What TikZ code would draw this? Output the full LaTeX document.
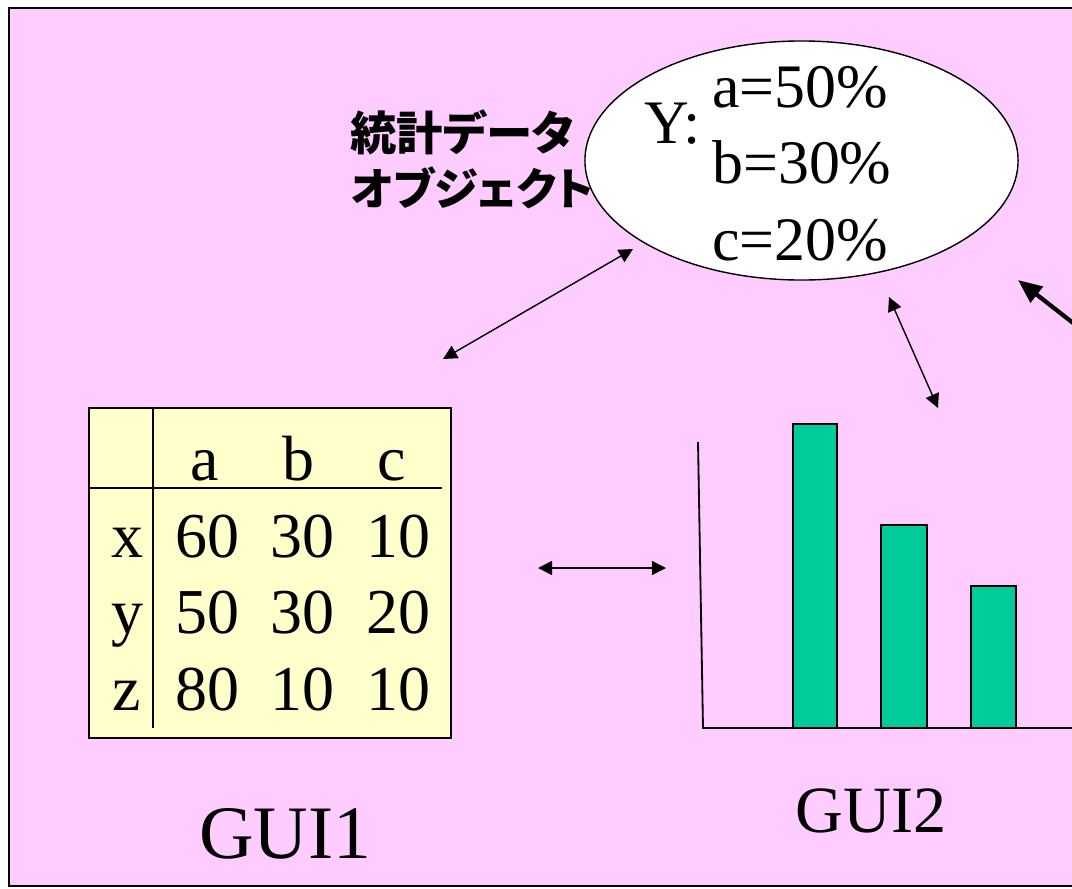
\documentclass[tikz,border=0pt]{standalone}
\usepackage{fontspec}
\setmainfont{Liberation Serif}
\newfontfamily\jpfont[RawFeature=+palt]{Noto Sans CJK JP}
\usetikzlibrary{shapes.geometric, arrows.meta, positioning}
\usepackage{xcolor}

\definecolor{bgpink}{RGB}{255,204,255}
\definecolor{tabyellow}{RGB}{255,255,204}
\definecolor{bargreen}{RGB}{0,204,153}

\begin{document}
\begin{tikzpicture}[
    x=0.025cm, y=-0.025cm,
    txt/.style={inner sep=0pt, anchor=base, font=\fontsize{45.5}{50}\selectfont},
    ytxt/.style={inner sep=0pt, anchor=base west, font=\fontsize{44}{50}\selectfont},
    jptxt/.style={inner sep=0pt, anchor=base west, font=\jpfont\bfseries\fontsize{33}{33}\selectfont},
    gui/.style={inner sep=0pt, anchor=base},
    stat/.style={ellipse, draw=black, line width=1pt, fill=white,
                 minimum width=10.825cm, minimum height=5.975cm},
    tab/.style={rectangle, draw=black, line width=1.3pt, fill=tabyellow,
                minimum width=9.05cm, minimum height=8.25cm},
    bar/.style={draw=black, line width=1.3pt, fill=bargreen},
    arr/.style={{Triangle[length=10pt,width=10pt]}-{Triangle[length=10pt,width=10pt]}, line width=1pt},
    thickarr/.style={{Triangle[length=17pt,width=14pt]}-, line width=3pt}
]
\useasboundingbox (0,0) rectangle (1072,888);
\clip (0,0) rectangle (1072,888);
\draw[line width=1.4pt, fill=bgpink] (9,8) rectangle (1100,886);

% statistics object
\node[stat] (obj) at (801.5,160.5) {};
\node[ytxt] (ylab) at (644,143) {Y:};
\node[ytxt] (pa) at (712,107) {a=50\%};
\node[ytxt] (pb) at (712,183) {b=30\%};
\node[ytxt] (pc) at (712,260) {c=20\%};
\node[jptxt] (jp1) at (350,150) {統計データ};
\node[jptxt, font=\jpfont\bfseries\fontsize{31.5}{33}\selectfont] (jp2) at (351,205) {オブジェクト};

% GUI1: table
\node[tab] (tab) at (270,573) {};
\draw[line width=1pt] (153,408) -- (153,728);
\draw[line width=1pt] (89,488) -- (442,488);
\node[txt] (ha) at (205,480) {a};
\node[txt] (hb) at (298,480) {b};
\node[txt] (hc) at (392,480) {c};
\node[txt] (rx) at (127,557) {x};
\node[txt] (x1) at (207,557) {60};
\node[txt] (x2) at (302,557) {30};
\node[txt] (x3) at (398,557) {10};
\node[txt] (ry) at (127,633) {y};
\node[txt] (y1) at (207,633) {50};
\node[txt] (y2) at (302,633) {30};
\node[txt] (y3) at (398,633) {20};
\node[txt] (rz) at (127,710) {z};
\node[txt] (z1) at (207,710) {80};
\node[txt] (z2) at (302,710) {10};
\node[txt] (z3) at (398,710) {10};
\node[gui, font=\fontsize{53.7}{55}\selectfont] (gui1) at (285,858) {GUI1};

% GUI2: bar chart
\draw[line width=1.3pt] (698,442) -- (703,728) -- (1100,728);
\draw[bar] (793,424) rectangle (837,728);
\draw[bar] (881,525) rectangle (927,728);
\draw[bar] (971,586) rectangle (1016,728);
\node[gui, font=\fontsize{47}{50}\selectfont] (gui2) at (871,832) {GUI2};

% arrow ends
\coordinate (tabTop) at (443,359);
\coordinate (objSW) at (633,249);
\coordinate (objS) at (889,297);
\coordinate (barTop) at (938,408);
\coordinate (tabE) at (538,568);
\coordinate (chartW) at (666,568);
\coordinate (objSE) at (1018,280);
\coordinate (offR) at (1100,344);

\draw[arr] (tabTop) -- (objSW);
\draw[arr] (objS) -- (barTop);
\draw[arr] (tabE) -- (chartW);
\draw[thickarr] (objSE) -- (offR);
\end{tikzpicture}
\end{document}
